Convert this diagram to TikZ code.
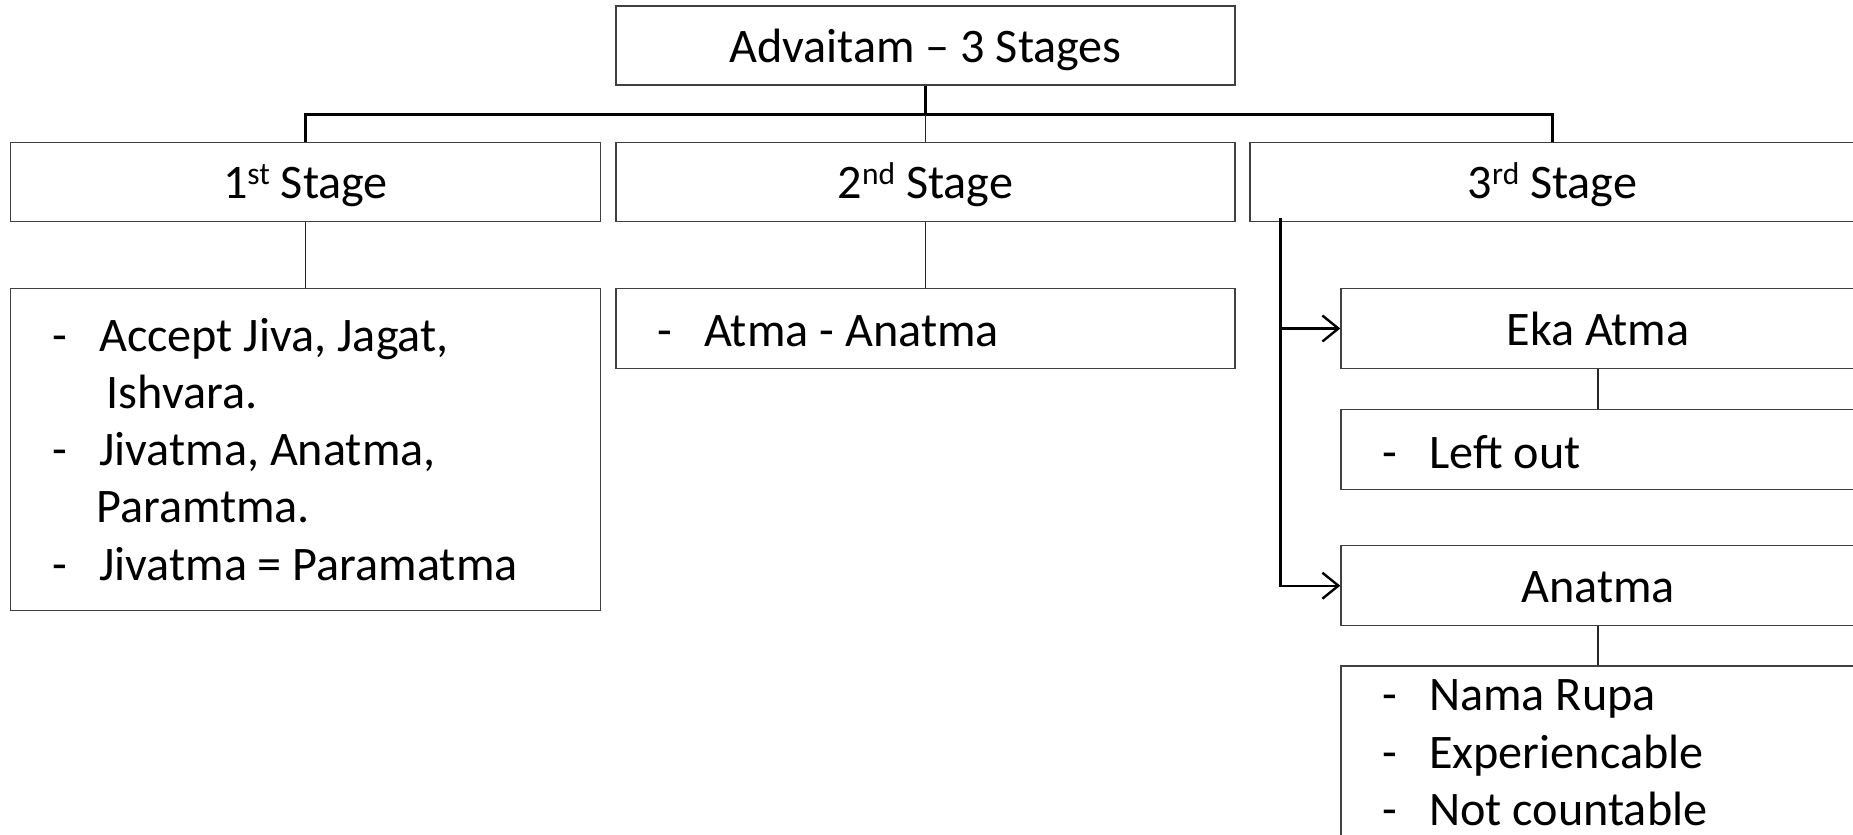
\documentclass[tikz,border=0pt]{standalone}
\usepackage{fontspec}
\setmainfont{Carlito}
\usetikzlibrary{arrows.meta}
\newcommand\supr[1]{\raisebox{14pt}{\fontsize{31.5}{31.5}\selectfont #1}}
\newcommand\dsh{\makebox[47pt][l]{-}}
\begin{document}
\begin{tikzpicture}[x=1pt,y=-1pt,
  box/.style={draw=black!75, line width=1.4pt, inner sep=0pt, fill=white},
  head/.style={box, font=\fontsize{48.2}{57}\selectfont, text height=33pt, text depth=0pt},
  txt/.style={inner sep=0pt, font=\fontsize{48.2}{57.7}\selectfont, anchor=base west},
  conn/.style={line width=1.4pt, black!85},
  busline/.style={line width=2.2pt, black},
  arr/.style={line width=2.4pt, black, -{Straight Barb[length=16pt,width=26pt]}}]
\fill[white] (0,0) rectangle (1853,835);
\useasboundingbox (0,0) rectangle (1853,835);

% headings
\node[head, minimum width=619pt, minimum height=79pt] (top) at (925.5,45.5) {Advaitam – 3 Stages};
\node[head, minimum width=590pt, minimum height=79pt] (s1) at (305.5,181.8) {1\supr{st} Stage};
\node[head, minimum width=619pt, minimum height=79pt] (s2) at (925.5,181.8) {2\supr{nd} Stage};
\node[head, minimum width=605pt, minimum height=79pt] (s3) at (1552.5,181.8) {3\supr{rd} Stage};

% content boxes
\node[box, minimum width=590pt, minimum height=322pt] (c1) at (305.5,449.5) {};
\node[box, minimum width=619pt, minimum height=80pt] (c2) at (925.5,328.5) {};
\node[head, minimum width=514pt, minimum height=80pt] (eka) at (1598,328.5) {Eka Atma};
\node[box, minimum width=514pt, minimum height=80pt] (lo) at (1598,449.5) {};
\node[head, minimum width=514pt, minimum height=80pt] (an) at (1598,585.7) {Anatma};
\node[box, minimum width=514pt, minimum height=240pt] (c3) at (1598,786) {};

% texts
\node[txt] (c1a) at (52,351) {\dsh Accept Jiva, Jagat,};
\node[txt] (c1b) at (106.5,408) {Ishvara.};
\node[txt] (c1c) at (52,465) {\dsh Jivatma, Anatma,};
\node[txt] (c1d) at (96,522.5) {Paramtma.};
\node[txt] (c1e) at (52,580.5) {\dsh Jivatma = Paramatma};
\node[txt] (c2t) at (657,346) {\dsh Atma - Anatma};
\node[txt] (lot) at (1382,468) {\dsh Left out};
\node[txt] (c3a) at (1382,710.5) {\dsh Nama Rupa};
\node[txt] (c3b) at (1382,768) {\dsh Experiencable};
\node[txt] (c3c) at (1382,825) {\dsh Not countable};

% connectors
\coordinate (bus) at (925.5,114.5);
\draw[busline] (top.south) -- (bus);
\draw[busline] (s1.north) |- (bus) -| (s3.north);
\draw[conn] (bus) -- (s2.north);
\draw[conn] (s1.south) -- (c1.north);
\draw[conn] (s2.south) -- (c2.north);
\draw[conn] (eka.south) -- (lo.north);
\draw[conn] (an.south) -- (c3.north);
\coordinate (side) at (1280.5,218);
\draw[arr] (side) |- (an.west);
\draw[arr] (side |- eka.west) -- (eka.west);
\end{tikzpicture}
\end{document}
